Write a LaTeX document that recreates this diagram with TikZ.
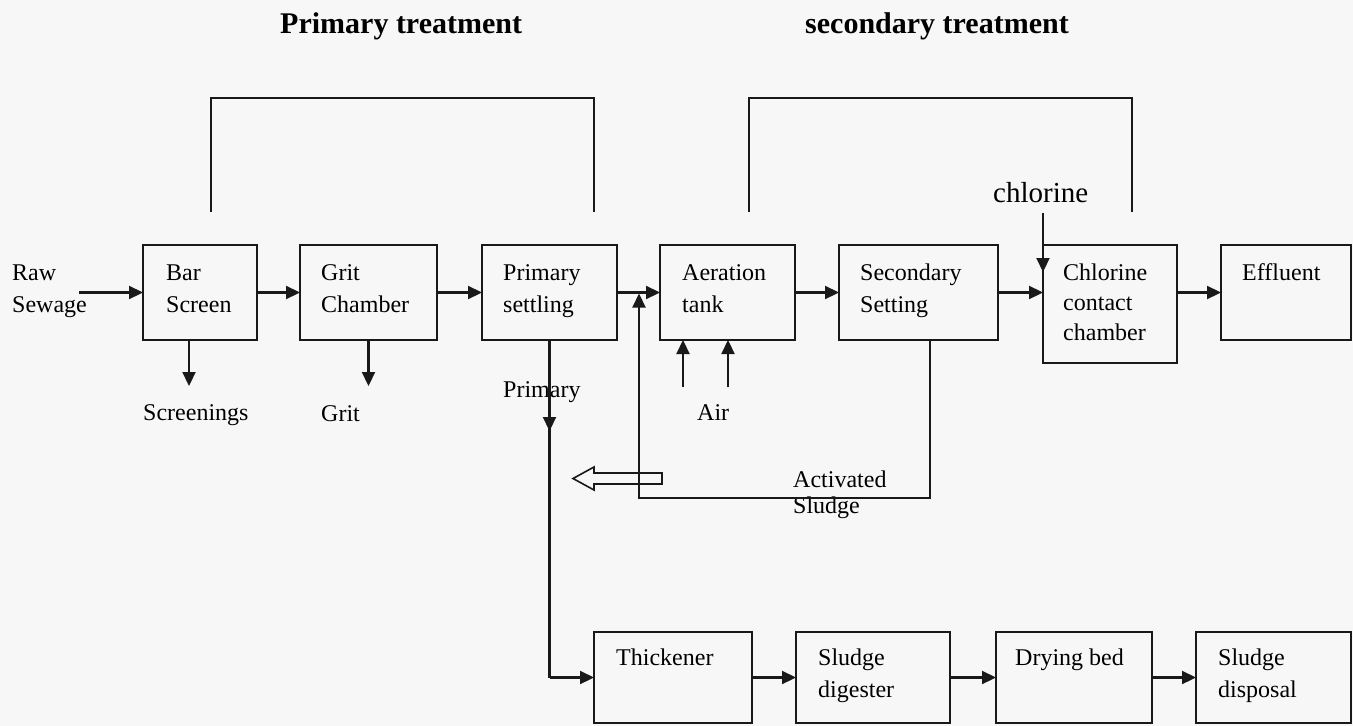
\documentclass[tikz,border=0pt]{standalone}
\usepackage{fontspec}
\setmainfont{Liberation Serif}
\usetikzlibrary{arrows.meta,calc}
\newcommand\twolines[2]{\vtop{\hbox{#1}\hbox{#2}}}
\newcommand\threelines[3]{\vtop{\hbox{#1}\hbox{#2}\hbox{#3}}}
\begin{document}
\begin{tikzpicture}[x=1pt,y=-1pt,
  box/.style={draw=black!90, line width=2.2pt, inner sep=0pt, outer sep=0pt},
  arr/.style={draw=black!90, line width=2.2pt, -{Triangle[length=14pt,width=13pt]}},
  ln/.style={draw=black!90, line width=2.2pt},
  lbl/.style={anchor=base west, inner sep=0pt, text=black, font=\fontsize{24}{32}\selectfont},
  ttl/.style={anchor=base west, inner sep=0pt, text=black, font=\fontsize{30}{36}\selectfont\bfseries},
  hollow/.style={draw=black!90, line width=1.6pt, line join=miter}]
\fill[black!3] (0,0) rectangle (1353,726);
\useasboundingbox (0,0) rectangle (1353,726);

% titles
\node[ttl] (t1) at (280,33) {Primary treatment};
\node[ttl] (t2) at (805,33) {secondary treatment};

% brackets
\coordinate (b1a) at (211,212); \coordinate (b1b) at (594,212);
\coordinate (b2a) at (749,212); \coordinate (b2b) at (1132,212);
\draw[ln] (b1a) -- (211,98) -- (594,98) -- (b1b);
\draw[ln] (b2a) -- (749,98) -- (1132,98) -- (b2b);

% top row boxes
\node[box, minimum width=114pt, minimum height=95pt] (bar)  at (200,292.5) {};
\node[box, minimum width=137pt, minimum height=95pt] (grit) at (368.5,292.5) {};
\node[box, minimum width=135pt, minimum height=95pt] (prim) at (549.5,292.5) {};
\node[box, minimum width=135pt, minimum height=95pt] (aer)  at (727.5,292.5) {};
\node[box, minimum width=159pt, minimum height=95pt] (sec)  at (918.5,292.5) {};
\node[box, minimum width=134pt, minimum height=118pt] (chl) at (1110,304) {};
\node[box, minimum width=130pt, minimum height=95pt] (eff)  at (1286,292.5) {};

% bottom row boxes
\node[box, minimum width=158pt, minimum height=91pt] (thick) at (673,677.5) {};
\node[box, minimum width=154pt, minimum height=91pt] (dig)   at (873,677.5) {};
\node[box, minimum width=156pt, minimum height=91pt] (dry)   at (1074,677.5) {};
\node[box, minimum width=155pt, minimum height=91pt] (disp)  at (1273.5,677.5) {};

% box labels
\node[lbl] (lraw)  at (12,280)   {\twolines{Raw}{Sewage}};
\node[lbl] (lbar)  at (166,280)  {\twolines{Bar}{Screen}};
\node[lbl] (lgrit) at (321,280)  {\twolines{Grit}{Chamber}};
\node[lbl] (lprim) at (503,280)  {\twolines{Primary}{settling}};
\node[lbl] (laer)  at (682,280)  {\twolines{Aeration}{tank}};
\node[lbl] (lsec)  at (860,280)  {\twolines{Secondary}{Setting}};
\node[lbl, font=\fontsize{24}{30}\selectfont] (lchl) at (1063,280) {\threelines{Chlorine}{contact}{chamber}};
\node[lbl] (leff)  at (1242,280) {Effluent};
\node[lbl] (lthick) at (616,665) {Thickener};
\node[lbl] (ldig)  at (818,665)  {\twolines{Sludge}{digester}};
\node[lbl] (ldry)  at (1015,665) {Drying bed};
\node[lbl] (ldisp) at (1218,665) {\twolines{Sludge}{disposal}};

% side labels
\node[lbl] (lscr) at (143,420) {Screenings};
\node[lbl] (lg)   at (321,421) {Grit};
\node[lbl] (lpri) at (503,397) {Primary};
\node[lbl] (lair) at (697,420) {Air};
\node[lbl, font=\fontsize{24}{26}\selectfont] (lact) at (793,487) {\twolines{Activated}{Sludge}};
\node[lbl, font=\fontsize{29}{34}\selectfont] (lcl) at (993,202) {chlorine};

% main flow arrows
\coordinate (rawend) at (79,292.5);
\draw[arr] (rawend) -- (bar.west);
\draw[arr] (bar.east) -- (grit.west);
\draw[arr] (grit.east) -- (prim.west);
\draw[arr] (prim.east) -- (aer.west);
\draw[arr] (aer.east) -- (sec.west);
\draw[arr] (sec.east) -- (sec.east -| chl.west);
\draw[arr] (sec.east -| chl.east) -- (eff.west);

% side outputs
\coordinate (scrA) at (189,340); \coordinate (scrB) at (189,386);
\draw[arr] (scrA) -- (scrB);
\coordinate (gritB) at (368.5,386);
\draw[arr] (grit.south) -- (gritB);

% air
\coordinate (airA) at (683,387); \coordinate (airA2) at (683,340);
\coordinate (airB) at (728,387); \coordinate (airB2) at (728,340);
\draw[arr] (airA) -- (airA2);
\draw[arr] (airB) -- (airB2);

% chlorine input
\coordinate (clA) at (1043,213); \coordinate (clB) at (1043,272);
\draw[arr] (clA) -- (clB);

% primary sludge line
\coordinate (priTip) at (549.5,431);
\draw[ln] (prim.south) -- (prim.south |- thick.west);
\draw[arr] (prim.south) -- (priTip);
\draw[arr] (prim.south |- thick.west) -- (thick.west);

% bottom row arrows
\draw[arr] (thick.east) -- (dig.west);
\draw[arr] (dig.east) -- (dry.west);
\draw[arr] (dry.east) -- (disp.west);

% activated sludge return
\coordinate (retA) at (930,340);
\coordinate (retTip) at (639,293.5);
\draw[arr] (retA) -- (930,498) -- (639,498) -- (retTip);

% hollow arrow
\draw[hollow] (662,473) -- (594,473) -- (594,467) -- (573,478.5) -- (594,490) -- (594,484) -- (662,484) -- cycle;
\end{tikzpicture}
\end{document}
